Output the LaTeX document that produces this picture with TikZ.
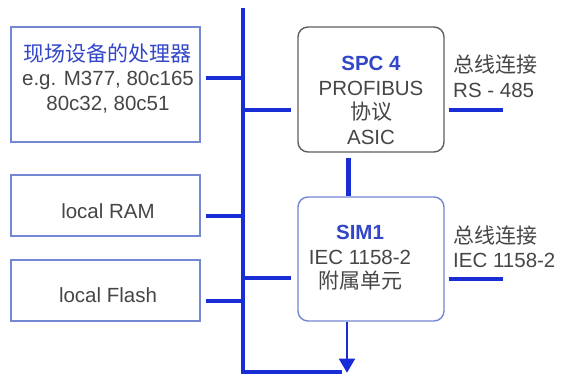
\documentclass[tikz,border=0pt]{standalone}
\usepackage{fontspec}
\setmainfont{Liberation Sans}
\newfontfamily\cjk{Noto Sans CJK SC}
\usetikzlibrary{arrows.meta,calc}
\definecolor{busblue}{RGB}{25,45,215}
\definecolor{boxblue}{RGB}{115,135,210}
\definecolor{txtgray}{RGB}{70,70,70}
\definecolor{ttlblue}{RGB}{50,70,200}
\definecolor{spcgray}{RGB}{95,95,95}
\newcommand{\zh}[1]{{\cjk\fontsize{21}{24}\selectfont #1}}
\tikzset{
  plainbox/.style={draw=boxblue,line width=1.4pt,fill=white,inner sep=0pt},
  roundbox/.style={plainbox,rounded corners=10pt},
  txt/.style={text=txtgray,font=\fontsize{20.5}{24.5}\selectfont,align=center,inner sep=0pt},
  lbl/.style={txt,align=left,anchor=west},
  bus/.style={draw=busblue,line width=4.5pt},
  link/.style={draw=busblue,line width=4pt},
  thinarrow/.style={draw=busblue,line width=1.8pt,-{Triangle[width=16pt,length=14pt]}}
}
\begin{document}
\begin{tikzpicture}[x=1pt,y=-1pt]
\useasboundingbox[fill=white] (0,0) rectangle (562,376);
% boxes
\node[plainbox,minimum width=189pt,minimum height=115pt] (proc) at (105.5,84.5) {};
\node[plainbox,minimum width=189pt,minimum height=61pt] (ram) at (105.5,205.5) {};
\node[plainbox,minimum width=189pt,minimum height=61pt] (flash) at (105.5,290.5) {};
\node[roundbox,draw=spcgray,minimum width=146pt,minimum height=125pt] (spc) at (371,89.5) {};
\node[roundbox,minimum width=146pt,minimum height=124pt] (sim) at (371,259) {};
% texts
\node[txt] (proct) at (108,78) {\textcolor{ttlblue}{\zh{现场设备的处理器}}\\e.g. M377, 80c165\\80c32, 80c51};
\node[txt] (ramt) at (108,211) {local RAM};
\node[txt] (flasht) at (108,295) {local Flash};
\node[txt] (spct) at (371,100.5) {\textcolor{ttlblue}{\bfseries SPC 4}\\PROFIBUS\\\zh{协议}\\ASIC};
\node[txt] (simt) at (360,258) {\textcolor{ttlblue}{\bfseries SIM1}\\IEC 1158-2\\\zh{附属单元}};
\node[lbl] (l1) at (453,76.5) {\zh{总线连接}\\RS - 485};
\node[lbl] (l2) at (453,246.5) {\zh{总线连接}\\IEC 1158-2};
% bus
\coordinate (bt) at (243,8);
\coordinate (be) at (342,372);
\draw[bus] (bt) |- (be);
\draw[link] ($(proc.east |- 0,78)+(5,0)$) -- (bt |- 0,78);
\draw[link] ($(ram.east |- 0,216)+(5,0)$) -- (bt |- 0,216);
\draw[link] ($(flash.east |- 0,301)+(5,0)$) -- (bt |- 0,301);
\draw[link] (bt |- 0,110) -- ($(spc.west |- 0,110)+(-6,0)$);
\draw[link] (bt |- 0,278) -- ($(sim.west |- 0,278)+(-6,0)$);
\coordinate (r1) at (503,110);
\coordinate (r2) at (503,279);
\draw[link] ($(spc.east |- r1)+(4,0)$) -- (r1);
\draw[link] ($(sim.east |- r2)+(4,0)$) -- (r2);
\draw[link,line width=5pt] ($(spc.south)+(-23,5)$) -- ($(sim.north)+(-23,0)$);
\draw[thinarrow] ($(sim.south)+(-24,0)$) -- ($(sim.south)+(-24,51)$);
\end{tikzpicture}
\end{document}
